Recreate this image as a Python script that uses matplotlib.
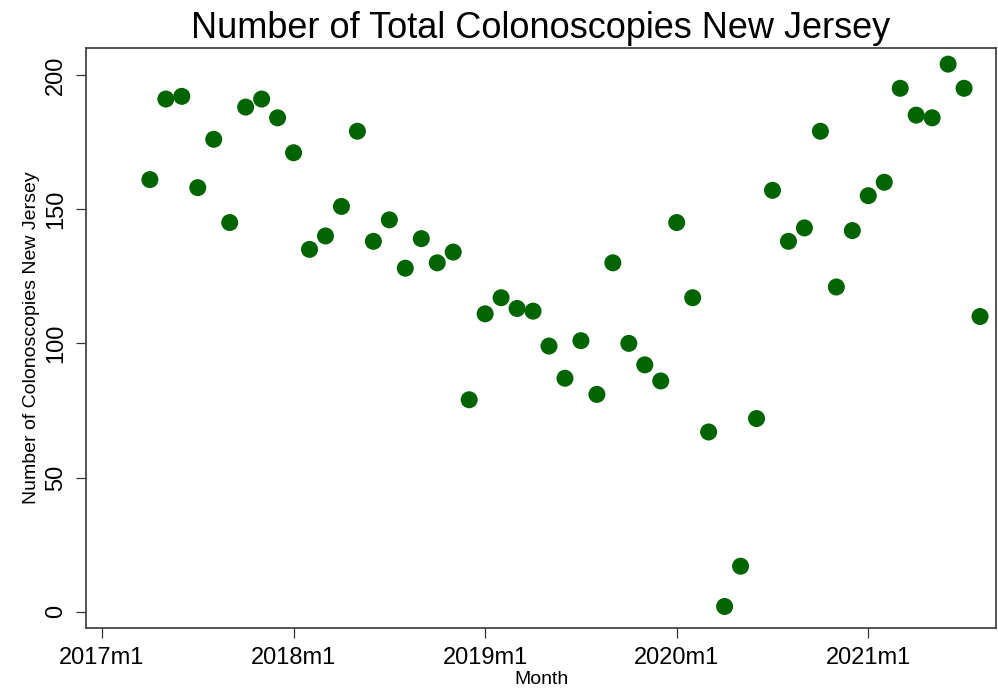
import matplotlib
matplotlib.use("Agg")
import matplotlib.pyplot as plt

plt.rcParams["font.family"] = ["Liberation Sans", "DejaVu Sans"]

# months counted from 2017m1 = 0
months = list(range(3, 56))
counts = [161, 191, 192, 158, 176, 145, 188, 191, 184,
          171, 135, 140, 151, 179, 138, 146, 128, 139, 130, 134, 79,
          111, 117, 113, 112, 99, 87, 101, 81, 130, 100, 92, 86,
          145, 117, 67, 2, 17, 72, 157, 138, 143, 179, 121, 142,
          155, 160, 195, 185, 184, 204, 195, 110]

tick_pos = [0, 12, 24, 36, 48]
tick_labels = ["2017m1", "2018m1", "2019m1", "2020m1", "2021m1"]
yticks = [0, 50, 100, 150, 200]

fig = plt.figure(figsize=(9.98, 7.0), dpi=100)
ax = fig.add_axes([0.0862, 0.1029, 0.9118, 0.8285])

ax.scatter(months, counts, s=150, color="#006400", edgecolors="none", zorder=3)

ax.set_xlim(-1, 56)
ax.set_ylim(-6, 210)
ax.set_xticks(tick_pos)
ax.set_xticklabels(tick_labels)
ax.set_yticks(yticks)
ax.set_yticklabels([str(v) for v in yticks], rotation=90, va="center")

ax.tick_params(axis="both", direction="out", length=7, width=0.9,
               color="#333333", labelsize=17, pad=6.5)
for sp in ax.spines.values():
    sp.set_linewidth(1.3)
    sp.set_color("#444444")

ax.set_title("Number of Total Colonoscopies New Jersey", fontsize=26, pad=7)
ax.set_xlabel("Month", fontsize=14, labelpad=2)
ax.set_ylabel("Number of Colonoscopies New Jersey", fontsize=14, labelpad=4)

fig.savefig("out.png", dpi=100)
